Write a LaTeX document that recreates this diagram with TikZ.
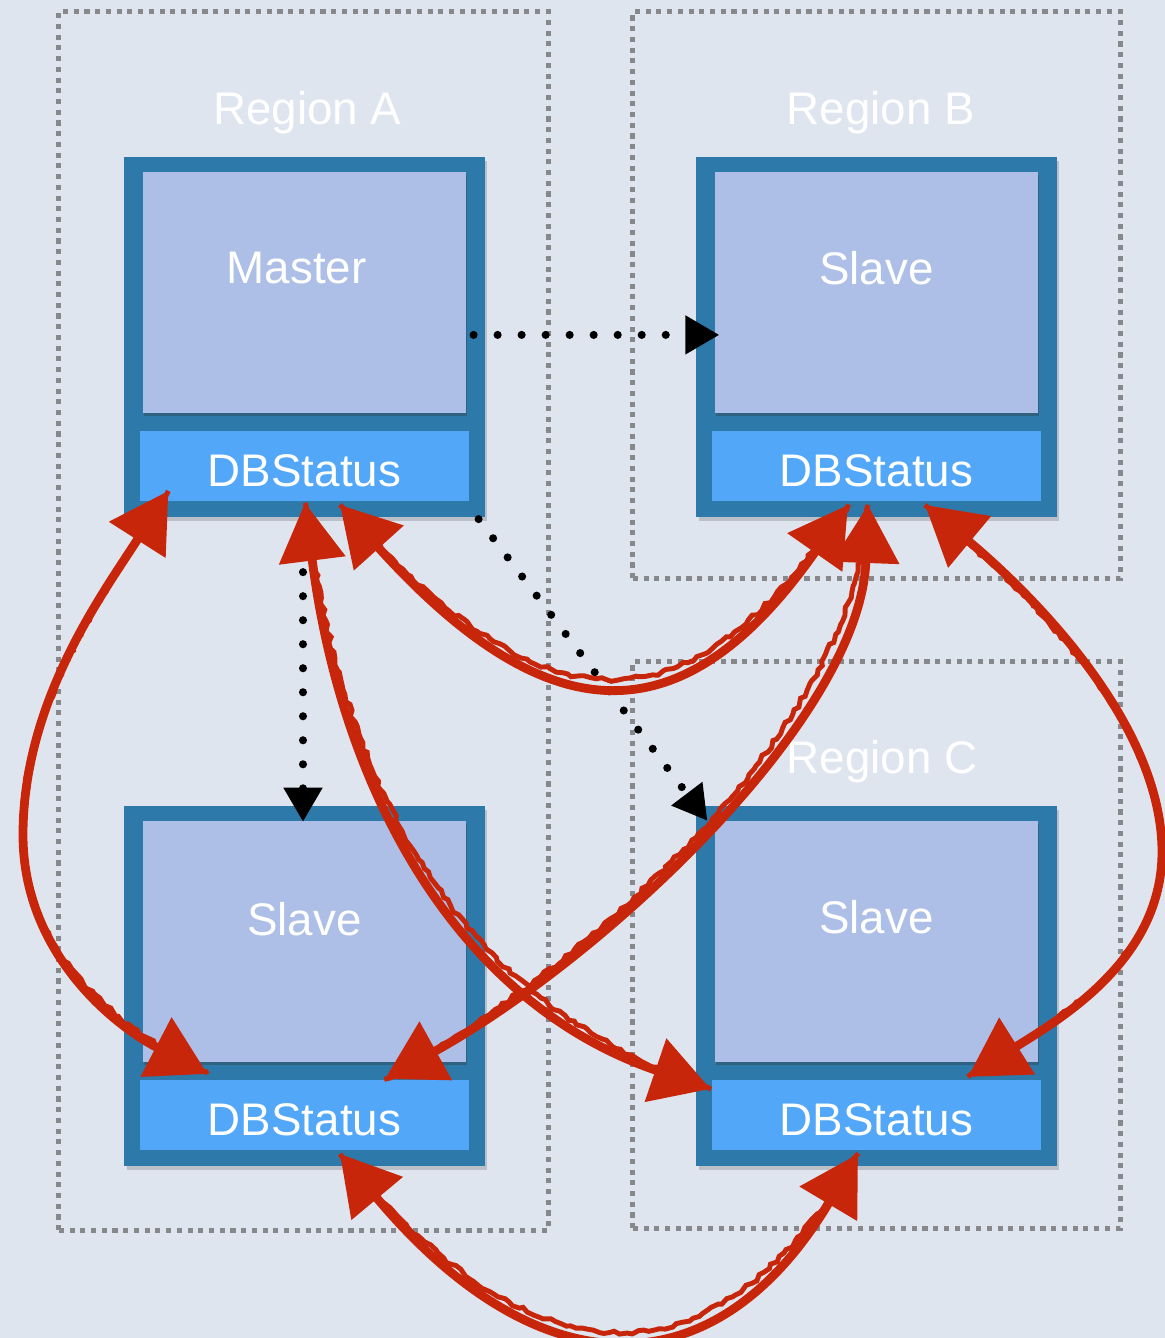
\documentclass[tikz,border=0pt]{standalone}
\usepackage{fontspec}
\setmainfont{Liberation Sans}
\usetikzlibrary{arrows.meta,calc,shadows,decorations.pathmorphing}

\definecolor{bgcol}{HTML}{DFE5EF}
\definecolor{regiongray}{HTML}{86888B}
\definecolor{boxblue}{HTML}{2D7AAA}
\definecolor{topblue}{HTML}{ADBFE6}
\definecolor{dbblue}{HTML}{52A7F9}
\definecolor{arrowred}{HTML}{C8260A}

\begin{document}
\pgfmathsetseed{7}
\begin{tikzpicture}[x=0.01cm,y=-0.01cm,
  regionbox/.style={draw=regiongray, line width=1.45pt, dash pattern=on 1.45pt off 1.6pt, inner sep=0pt, outer sep=0pt},
  regionlabel/.style={text=white, font=\fontsize{13}{15}\selectfont, inner sep=0pt, anchor=base},
  outerbox/.style={fill=boxblue, minimum width=3.6cm, minimum height=3.6cm, inner sep=0pt, outer sep=0pt,
    drop shadow={shadow xshift=0.8pt, shadow yshift=-1.1pt, opacity=0.16, fill=black}},
  topbox/.style={fill=topblue, minimum width=3.22cm, minimum height=2.41cm, inner sep=0pt, outer sep=0pt,
    drop shadow={shadow xshift=0.3pt, shadow yshift=-0.9pt, opacity=0.35, fill=black!80}},
  dbbox/.style={fill=dbblue, minimum width=3.28cm, minimum height=0.7cm, inner sep=0pt, outer sep=0pt},
  boxtext/.style={text=white, font=\fontsize{13}{15}\selectfont, inner sep=0pt},
  flow/.style={black, line width=2.3pt, line cap=round, dash pattern=on 0pt off 6.83pt,
    -{Triangle[length=9.7pt,width=10.5pt]}},
  redlink/.style={draw=arrowred, line width=2.5pt,
    {Triangle[length=16.5pt,width=18.5pt]}-{Triangle[length=16.5pt,width=18.5pt]},
    postaction={draw=arrowred, -, line width=1.4pt, decorate,
      decoration={random steps, segment length=1.6pt, amplitude=0.55pt}}}
]
% canvas
\fill[bgcol] (0,0) rectangle (1165,1338);
\useasboundingbox (0,0) rectangle (1165,1338);

% regions
\node[regionbox, minimum width=4.89cm, minimum height=12.18cm] (regA) at (303.5,621) {};
\node[regionbox, minimum width=4.87cm, minimum height=5.66cm] (regB) at (876.5,295) {};
\node[regionbox, minimum width=4.87cm, minimum height=5.66cm] (regC) at (876.5,945) {};
\node[regionlabel] (labA) at (307.5,124) {Region A};
\node[regionlabel] (labB) at (881,124) {Region B};
\node[regionlabel] (labC) at (882,773) {Region C};

% database servers
\node[outerbox] (m)  at (304.5,337) {};
\node[outerbox] (b)  at (876.5,337) {};
\node[outerbox] (sA) at (304.5,986) {};
\node[outerbox] (c)  at (876.5,986) {};

\foreach \n in {m,b,sA,c}{
  \node[topbox] (\n Top) at ($(\n.north)+(0,135.5)$) {};
  \node[dbbox]  (\n DB)  at ($(\n.north)+(0,309)$) {};
  \node[boxtext] (\n DBLbl) at ($(\n DB.center)+(0,4.5)$) {DBStatus};
}
\node[boxtext] (mLbl)  at ($(mTop.center)+(-8,-24)$) {Master};
\node[boxtext] (bLbl)  at ($(bTop.center)+(0,-24)$) {Slave};
\node[boxtext] (sALbl) at ($(sATop.center)+(0,-22)$) {Slave};
\node[boxtext] (cLbl)  at ($(cTop.center)+(0,-24)$) {Slave};

% replication flow from the master
\draw[flow] ($(mTop.east)+(8,42.5)$) -- ($(bTop.west)+(4,42.5)$);
\draw[flow] ($(m.south)+(-1.5,7)$) -- ($(sATop.north)+(-1.5,1)$);
\draw[flow] ($(m.south east)+(-6,2)$) -- ($(cTop.north west)+(-8,0)$);

% status exchange between all DBStatus modules
\draw[redlink] ($(mDB.south west)+(28,-10)$) .. controls (104,592) and (23,700) .. (23,835)
  .. controls (23,950) and (110,1023) .. ($(sADB.north west)+(67,-6)$);
\draw[redlink] ($(mDB.south)+(0.5,2)$) .. controls (340,780) and (450,1000) .. ($(cDB.west)+(-2,-26)$);
\draw[redlink] ($(mDB.south)+(35.5,4)$) .. controls (550,738) and (685,738) .. ($(bDB.south)+(-28.5,4)$);
\draw[redlink] ($(bDB.south)+(-8.5,4)$) .. controls (860,720) and (600,960) .. ($(sADB.north)+(80.5,-1)$);
\draw[redlink] ($(bDB.south)+(48.5,4)$) .. controls (1025,588) and (1162,720) .. (1162,852)
  .. controls (1162,960) and (1060,1019) .. ($(cDB.north)+(91.5,-3)$);
\draw[redlink] ($(sADB.south)+(35.5,4)$) .. controls (539,1392) and (716,1392) .. ($(cDB.south)+(-18.5,4)$);
\end{tikzpicture}
\end{document}
